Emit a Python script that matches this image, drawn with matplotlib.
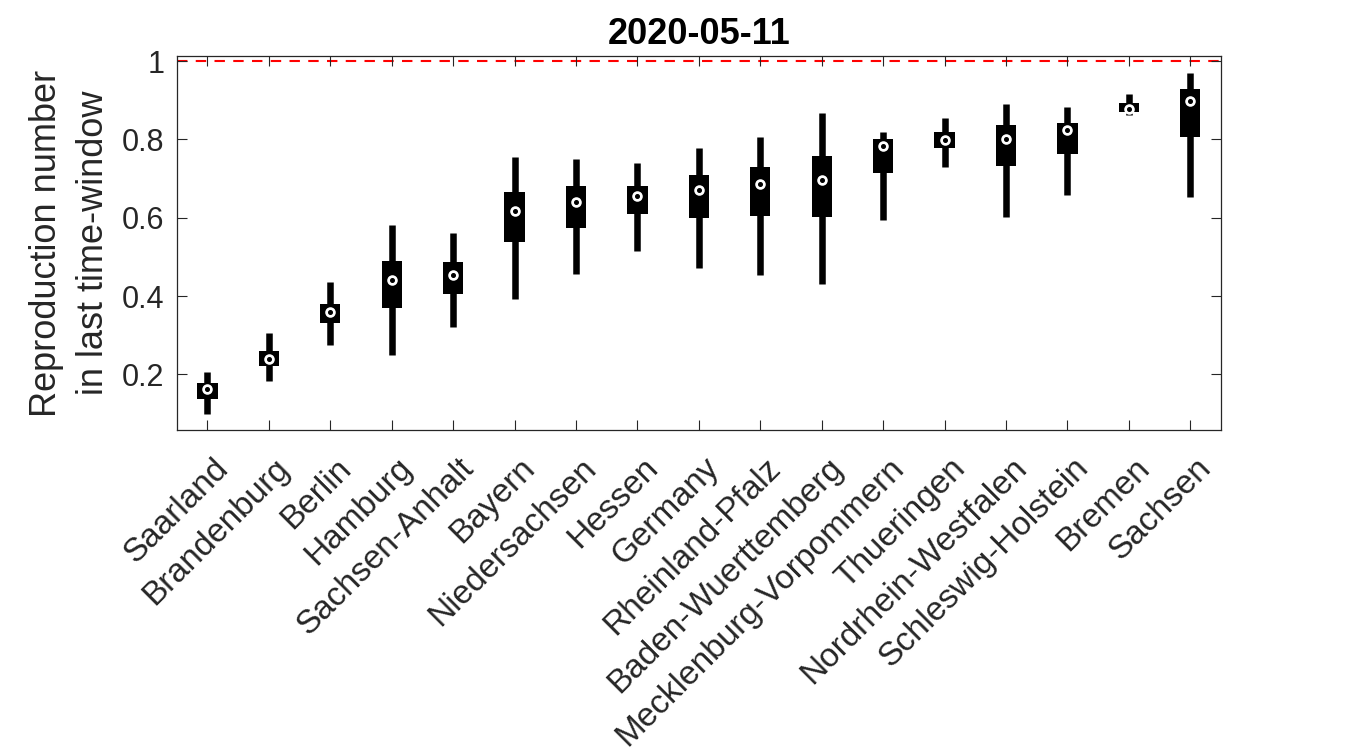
#project title: reproduction number per federal state (boxplot)
# Using NumPy and Matplotlib
from matplotlib import pyplot as plt
from matplotlib.transforms import ScaledTranslation
import numpy as np

#====================================================================================================
# Data
#====================================================================================================
states = ["Saarland", "Brandenburg", "Berlin", "Hamburg", "Sachsen-Anhalt", "Bayern",
          "Niedersachsen", "Hessen", "Germany", "Rheinland-Pfalz", "Baden-Wuerttemberg",
          "Mecklenburg-Vorpommern", "Thueringen", "Nordrhein-Westfalen", "Schleswig-Holstein",
          "Bremen", "Sachsen"]

whisker_low = [0.100, 0.183, 0.275, 0.250, 0.322, 0.393, 0.457, 0.516, 0.471, 0.453, 0.432,
               0.595, 0.729, 0.603, 0.657, 0.862, 0.652]
q1 = [0.137, 0.221, 0.332, 0.369, 0.406, 0.539, 0.573, 0.609, 0.600, 0.605, 0.602,
      0.715, 0.779, 0.731, 0.764, 0.869, 0.805]
median = [0.162, 0.239, 0.360, 0.441, 0.455, 0.617, 0.641, 0.655, 0.671, 0.685, 0.696,
          0.784, 0.799, 0.801, 0.823, 0.877, 0.899]
q3 = [0.177, 0.259, 0.380, 0.489, 0.487, 0.666, 0.680, 0.682, 0.710, 0.730, 0.757,
      0.801, 0.820, 0.836, 0.842, 0.892, 0.930]
whisker_high = [0.207, 0.306, 0.436, 0.581, 0.562, 0.756, 0.749, 0.739, 0.777, 0.805, 0.867,
                0.820, 0.855, 0.890, 0.884, 0.917, 0.970]

yticks = [0.2, 0.4, 0.6, 0.8, 1]
ytick_labels = ["0.2", "0.4", "0.6", "0.8", "1"]
title = "2020-05-11"

#====================================================================================================
# Plot
#====================================================================================================
plt.rcParams['font.family'] = ['Liberation Sans', 'DejaVu Sans']
text_col = '#262626'

fig = plt.figure(figsize=(13.5, 7.5), dpi=100)
ax = fig.add_axes([0.1309, 0.4267, 0.7735, 0.4986])

x = np.arange(1, len(states) + 1)
box_low = np.array(q1)
box_high = np.array(q3)

# whiskers (thin) and boxes (thick), compact style
ax.vlines(x, whisker_low, whisker_high, colors='black', linewidth=4.7, zorder=2)
ax.bar(x, box_high - box_low, bottom=box_low, width=0.33, color='black', zorder=3)

# median marker: white circle with black dot
ax.plot(x, median, 'o', markersize=7.6, markerfacecolor='white', markeredgecolor='none', zorder=4)
ax.plot(x, median, 'o', markersize=2.6, color='black', zorder=5)

# reference line at R = 1
ax.axhline(1, color='red', linestyle=(0, (5, 4)), linewidth=1.5, zorder=1)

# axes
ax.set_xlim(0.5, 17.5)
ax.set_ylim(0.058, 1.013)
ax.set_yticks(yticks)
ax.set_yticklabels(ytick_labels, fontsize=22)
ax.set_xticks(x)
ax.set_xticklabels(states, rotation=45, ha='right', va='center', rotation_mode='anchor',
                   fontsize=24)

ax.tick_params(direction='in', length=7.2, width=0.8, color=text_col, labelcolor=text_col,
               top=True, right=True)
ax.tick_params(axis='y', pad=9)
ax.tick_params(axis='x', pad=24)
for spine in ax.spines.values():
    spine.set_color(text_col)
    spine.set_linewidth(0.9)

# shift rotated labels a bit to the right (like the original)
offset = ScaledTranslation(16 / 100, 0, fig.dpi_scale_trans)
for lab in ax.get_xticklabels():
    lab.set_transform(lab.get_transform() + offset)

ax.set_ylabel("Reproduction number\nin last time-window", fontsize=26, color=text_col,
              linespacing=1.43)
ax.yaxis.set_label_coords(-0.063, 0.5)

ax.set_title(title, fontsize=26, fontweight='bold', color='black', pad=9)

plt.savefig("out.png", dpi=100)
